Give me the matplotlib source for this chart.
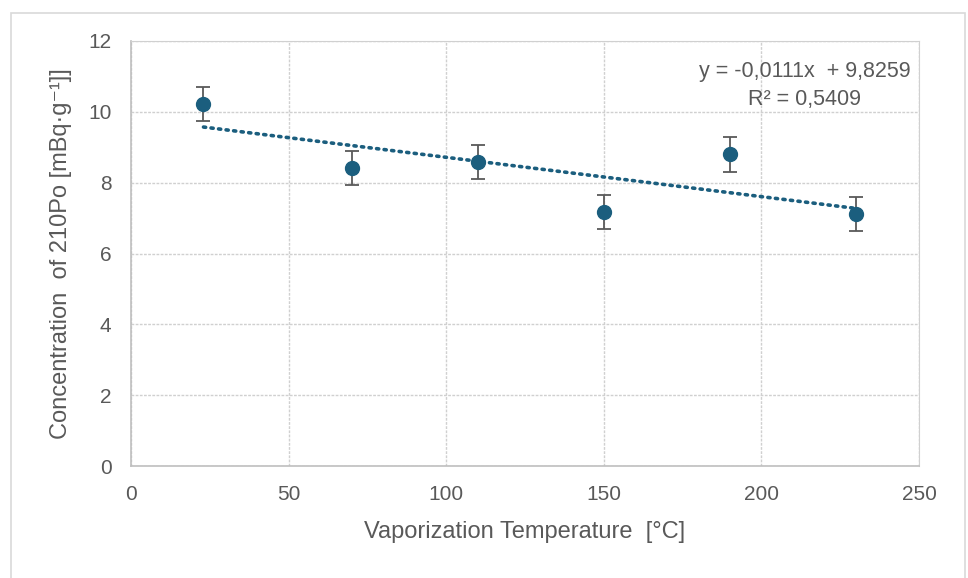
import numpy as np
import matplotlib.pyplot as plt
from matplotlib.patches import Rectangle

# data
temp = [23, 70, 110, 150, 190, 230]
conc = [10.22, 8.42, 8.59, 7.18, 8.80, 7.12]
err = [0.48, 0.48, 0.48, 0.48, 0.49, 0.48]
slope, intercept = -0.0111, 9.8259
r2 = 0.5409

fonts = ['Liberation Sans', 'DejaVu Sans']
plt.rcParams['font.family'] = fonts
txt = '#595959'
blue = '#1b5e7e'

fig = plt.figure(figsize=(9.68, 5.78), dpi=100)
fig.patches.append(Rectangle((11/968, -0.02), 954/968, 1.02 - 13/578, transform=fig.transFigure,
                             fill=False, edgecolor='#d9d9d9', lw=1.2))
ax = fig.add_axes([131/968, 1 - 466/578, 788/968, 425/578])

# trendline
xt = np.array([temp[0], temp[-1]])
ax.plot(xt, slope*xt + intercept, color=blue, lw=2.6, linestyle=(0, (0.6, 1.5)),
        dash_capstyle='round', zorder=2)

ax.errorbar(temp, conc, yerr=err, fmt='o', color=blue, ms=10, ecolor='#595959',
            elinewidth=1.3, capsize=5, capthick=1.3, zorder=3)

ax.set_xlim(0, 250)
ax.set_ylim(0, 12)
ax.set_xticks(np.arange(0, 251, 50))
ax.set_yticks(np.arange(0, 13, 2))
ax.grid(color='#d0d0d0', linestyle=(0, (2, 1)), lw=1)
ax.set_axisbelow(True)
for s in ['top', 'right']:
    ax.spines[s].set_color('#d0d0d0')
    ax.spines[s].set_linestyle((0, (2, 1)))
for s in ['left', 'bottom']:
    ax.spines[s].set_color('#bfbfbf')
    ax.spines[s].set_linewidth(1.2)
ax.tick_params(length=0, pad=14, labelsize=15, colors=txt)

ax.set_xlabel('Vaporization Temperature  [°C]', fontsize=17, color=txt, labelpad=12)
ax.set_ylabel('Concentration  of 210Po [mBq·g⁻¹]]', fontsize=17, color=txt, labelpad=12)

ax.text(0.855, 0.895, 'y = -0,0111x  + 9,8259\nR² = 0,5409', transform=ax.transAxes,
        ha='center', va='center', fontsize=15.5, color=txt, linespacing=1.4)

fig.savefig('out.png', dpi=100)
